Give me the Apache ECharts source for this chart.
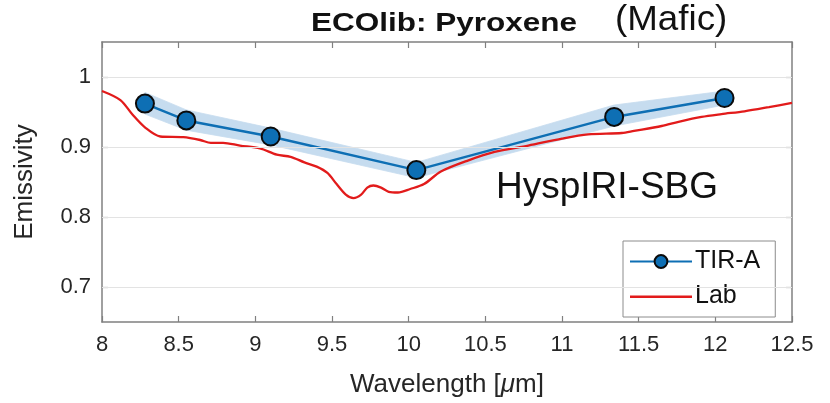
<!DOCTYPE html>
<html>
<head>
<meta charset="utf-8">
<script src="https://cdn.jsdelivr.net/npm/echarts@6/dist/echarts.min.js"></script>
<style>
  html, body { margin: 0; padding: 0; background: #fff; }
  #chart { width: 830px; height: 403px; }
</style>
</head>
<body>
<div id="chart"></div>
<script>
// TIR-A band-averaged emissivity (µm, emissivity) with its uncertainty envelope
const tirWavelength = [8.28, 8.55, 9.10, 10.05, 11.34, 12.06];
const tirEmissivity = [0.962, 0.938, 0.915, 0.867, 0.943, 0.970];
const tirUpper      = [0.978, 0.953, 0.927, 0.878, 0.960, 0.980];
const tirLower      = [0.947, 0.924, 0.903, 0.856, 0.930, 0.960];

// Laboratory pyroxene spectrum
const labWavelength = [8.00, 8.12, 8.20, 8.28, 8.38, 8.53, 8.64, 8.71, 8.79, 8.90,
                       9.03, 9.14, 9.23, 9.32, 9.40, 9.47, 9.53, 9.59, 9.64, 9.69,
                       9.73, 9.77, 9.82, 9.87, 9.93, 10.01, 10.10, 10.21, 10.39, 10.56,
                       10.78, 11.00, 11.17, 11.39, 11.47, 11.65, 11.76, 11.91, 12.04, 12.19,
                       12.35, 12.50];
const labEmissivity = [0.980, 0.967, 0.946, 0.928, 0.915, 0.914, 0.910, 0.906, 0.906, 0.902,
                       0.898, 0.889, 0.886, 0.878, 0.872, 0.863, 0.847, 0.832, 0.827, 0.832,
                       0.842, 0.845, 0.842, 0.836, 0.835, 0.840, 0.847, 0.865, 0.881, 0.893,
                       0.902, 0.912, 0.918, 0.920, 0.923, 0.930, 0.936, 0.943, 0.947, 0.951,
                       0.957, 0.963];

// Axis ticks
const xTicks = [8, 8.5, 9, 9.5, 10, 10.5, 11, 11.5, 12, 12.5];
const yTicks = [0.7, 0.8, 0.9, 1];

const FONT = '"Liberation Sans", Arial, Helvetica, sans-serif';
const AXIS_GRAY = '#808080';
const TEXT_DARK = '#262626';
const TIR_BLUE = '#0e6fb4';
const LAB_RED = '#e21b1b';

const chart = echarts.init(document.getElementById('chart'), null, { renderer: 'canvas' });

const tirData = tirWavelength.map((w, i) => [w, tirEmissivity[i]]);
const labData = labWavelength.map((w, i) => [w, labEmissivity[i]]);
const bandData = tirWavelength.map((w, i) => [w, tirLower[i], tirUpper[i]]);

const xRange = { min: xTicks[0], max: xTicks[xTicks.length - 1], interval: 0.5 };
const yRange = { min: 0.65, max: 1.05 };

// plain line legend key (thin bar centred in the key box)
const LINE_ICON = 'path://M0,0 L0.01,0 L0,0.01 Z M0,7 L62,7 L62,9.4 L0,9.4 Z M62,16 L61.99,16 L62,15.99 Z';

function axisCommon() {
  return {
    axisLine: { show: true, onZero: false, lineStyle: { color: AXIS_GRAY, width: 1.5 } },
    axisTick: { show: true, inside: true, length: 6, lineStyle: { color: AXIS_GRAY, width: 1.2 } }
  };
}

const option = {
  animation: false,
  backgroundColor: '#fff',
  grid: { left: 102, right: 38, top: 42, bottom: 74 },
  legend: {
    data: ['TIR-A', { name: 'Lab', icon: LINE_ICON, itemStyle: { color: LAB_RED } }],
    orient: 'vertical',
    left: 623, top: 241,
    padding: [8, 15, 8, 6],
    itemGap: 10,
    itemWidth: 62,
    itemHeight: 16,
    backgroundColor: '#fff',
    borderColor: '#8c8c8c',
    borderWidth: 1,
    textStyle: { fontFamily: FONT, fontSize: 25, color: '#111', padding: [0, 0, 0, -2] }
  },
  xAxis: [
    Object.assign(axisCommon(), {
      type: 'value', position: 'bottom', ...xRange,
      name: 'Wavelength [{mu|μ}m]',
      nameLocation: 'middle', nameGap: 50,
      nameTextStyle: {
        fontFamily: FONT, fontSize: 26, color: TEXT_DARK,
        rich: { mu: { fontFamily: FONT, fontSize: 26, fontStyle: 'italic', color: TEXT_DARK } }
      },
      axisLabel: { fontFamily: FONT, fontSize: 22, color: TEXT_DARK, margin: 12 },
      splitLine: { show: false }
    }),
    Object.assign(axisCommon(), {
      type: 'value', position: 'top', ...xRange,
      axisLabel: { show: false },
      splitLine: { show: false }
    })
  ],
  yAxis: [
    Object.assign(axisCommon(), {
      type: 'value', position: 'left', ...yRange,
      name: 'Emissivity',
      nameLocation: 'middle', nameGap: 64,
      nameTextStyle: { fontFamily: FONT, fontSize: 26, color: TEXT_DARK },
      axisLabel: { fontFamily: FONT, fontSize: 22, color: TEXT_DARK, margin: 11, customValues: yTicks },
      axisTick: { show: true, inside: true, length: 6, customValues: yTicks,
                  lineStyle: { color: AXIS_GRAY, width: 1.2 } },
      splitLine: { show: false }
    }),
    Object.assign(axisCommon(), {
      type: 'value', position: 'right', ...yRange,
      axisLabel: { show: false, customValues: yTicks },
      axisTick: { show: true, inside: true, length: 6, customValues: yTicks,
                  lineStyle: { color: AXIS_GRAY, width: 1.2 } },
      splitLine: { show: false }
    })
  ],
  graphic: [
    {
      // chart title, set in a wide heavy face
      type: 'text', x: 311, y: 12, scaleX: 1.26, z: 10,
      style: { text: 'ECOlib: Pyroxene', font: 'bold 25px ' + FONT, fill: '#111',
               textAlign: 'left', textVerticalAlign: 'top' }
    },
    {
      type: 'text', x: 615, y: 3, scaleX: 1.05, z: 10,
      style: { text: '(Mafic)', font: '35px ' + FONT, fill: '#111',
               textAlign: 'left', textVerticalAlign: 'top' }
    },
    {
      type: 'text', x: 496, y: 169, z: 10,
      style: { text: 'HyspIRI-SBG', font: '37px ' + FONT, fill: '#111',
               textAlign: 'left', textVerticalAlign: 'top' }
    }
  ],
  series: [
    {
      // horizontal grid lines at the labelled emissivity ticks
      name: 'grid',
      type: 'line',
      data: [],
      silent: true,
      markLine: {
        silent: true, symbol: 'none', label: { show: false },
        lineStyle: { color: '#e3e3e3', width: 1, type: 'solid' },
        data: yTicks.map(v => ({ yAxis: v }))
      },
      z: 0
    },
    {
      // uncertainty envelope for TIR-A, one quad per segment
      name: 'TIR-A range',
      type: 'custom',
      data: bandData,
      silent: true,
      z: 1,
      renderItem: function (params, api) {
        const i = params.dataIndex;
        if (i >= bandData.length - 1) return null;
        const a = bandData[i], b = bandData[i + 1];
        const pts = [
          api.coord([a[0], a[2]]), api.coord([b[0], b[2]]),
          api.coord([b[0], b[1]]), api.coord([a[0], a[1]])
        ];
        return {
          type: 'polygon',
          shape: { points: pts },
          style: { fill: '#c6dcef', stroke: '#c6dcef', lineWidth: 0.8 }
        };
      }
    },
    {
      name: 'Lab',
      type: 'line',
      data: labData,
      smooth: 0.3,
      showSymbol: false,
      symbol: 'none',
      lineStyle: { color: LAB_RED, width: 2.3 },
      itemStyle: { color: LAB_RED },
      z: 2
    },
    {
      name: 'TIR-A',
      type: 'line',
      data: tirData,
      symbol: 'circle',
      symbolSize: 18,
      lineStyle: { color: TIR_BLUE, width: 2.5 },
      itemStyle: { color: TIR_BLUE, borderColor: '#0b0b0b', borderWidth: 2 },
      z: 3
    }
  ]
};

chart.setOption(option);
</script>
</body>
</html>
